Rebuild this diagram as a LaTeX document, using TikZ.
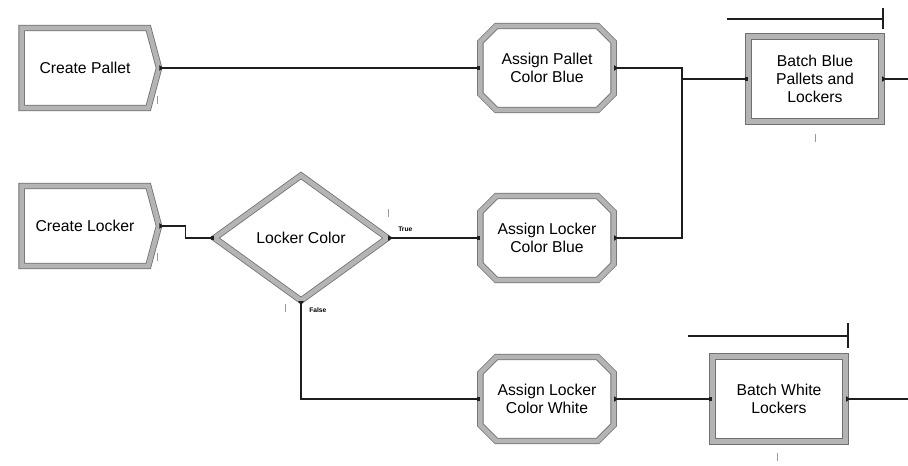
\documentclass[tikz,border=0pt]{standalone}
\usepackage{fontspec}
\setmainfont{Liberation Sans}
\usetikzlibrary{arrows.meta,shapes.geometric,shapes.misc,shapes.symbols}
\definecolor{ArenaEdge}{HTML}{707070}
\definecolor{ArenaBevel}{HTML}{B4B4B4}
\definecolor{ArenaLine}{HTML}{1E1E1E}
\definecolor{ArenaTally}{HTML}{9A9A9A}
\tikzset{
  module/.style={draw=ArenaEdge, double=ArenaBevel, double distance=3.6pt, line width=0.6pt,
                 fill=white, inner sep=0pt, align=center, font=\fontsize{11.8}{13.5}\selectfont},
  createmod/.style={module, signal, signal to=east, signal pointer angle=150,
                    minimum width=103pt, minimum height=60pt},
  assignmod/.style={module, chamfered rectangle, chamfered rectangle xsep=6pt,
                    chamfered rectangle ysep=6pt, minimum width=100pt, minimum height=63pt},
  decidemod/.style={module, diamond, aspect=1.37, minimum width=130pt, minimum height=94pt},
  batchmod/.style={module, rectangle, minimum width=100pt, minimum height=64pt},
  conn/.style={draw=ArenaLine, line width=0.9pt,
               {Triangle[reversed,length=3pt,width=4pt]}-{Square[length=2.5pt,width=3pt]}},
  outconn/.style={draw=ArenaLine, line width=0.9pt, {Triangle[reversed,length=3pt,width=4pt]}-},
  queue/.style={draw=ArenaLine, line width=0.9pt},
  tally/.style={draw=ArenaTally, line width=0.6pt},
  branch/.style={font=\fontsize{5}{6}\selectfont\bfseries, inner sep=0pt},
}
\begin{document}
\begin{tikzpicture}[x=0.75pt, y=-0.75pt]
  \useasboundingbox[fill=white] (0,0) rectangle (908,465);
  % modules
  \node[createmod] (cp) at (85,68) {Create Pallet};
  \node[createmod] (cl) at (85,226) {Create Locker};
  \node[decidemod] (lc) at (301,238) {Locker Color};
  \node[assignmod] (ap) at (547,68) {Assign Pallet\\Color Blue};
  \node[assignmod] (alb) at (547,238) {Assign Locker\\Color Blue};
  \node[assignmod] (alw) at (547,399) {Assign Locker\\Color White};
  \node[batchmod] (bb) at (815,79) {Batch Blue\\Pallets and\\Lockers};
  \node[batchmod] (bw) at (779,399) {Batch White\\Lockers};
  \coordinate (jn) at (682,79);
  \coordinate (bbout) at (908,79);
  \coordinate (bwout) at (908,399);
  % connections
  \draw[conn] (cp.east) -- (ap.west);
  \draw[conn] (cl.east) -- ++(26,0) |- (lc.west);
  \draw[conn] (lc.east) -- (alb.west);
  \draw[conn] (lc.south) |- (alw.west);
  \draw[conn] (ap.east) -| (jn) -- (bb.west);
  \draw[outconn] (alb.east) -| (jn);
  \draw[conn] (alw.east) -- (bw.west);
  \draw[outconn] (bb.east) -- (bbout);
  \draw[outconn] (bw.east) -- (bwout);
  \node[branch, anchor=south west] (tl) at (398,232) {True};
  \node[branch, anchor=west] (fl) at (309,310) {False};
  % queues
  \draw[queue] (727,19) -- (883,19);
  \draw[queue] (883,8) -- (883,29);
  \draw[queue] (688,336) -- (848,336);
  \draw[queue] (848,323) -- (848,348);
  % counters
  \draw[tally] (157,96) -- (157,104);
  \draw[tally] (157,253) -- (157,261);
  \draw[tally] (388,209) -- (388,217);
  \draw[tally] (285,304) -- (285,312);
  \draw[tally] (815,134) -- (815,142);
  \draw[tally] (777,453) -- (777,461);
\end{tikzpicture}
\end{document}
